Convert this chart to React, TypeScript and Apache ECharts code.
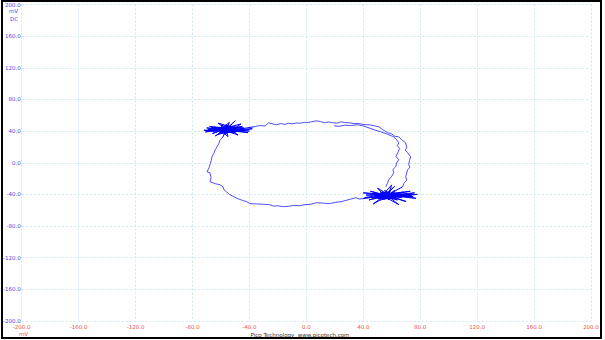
import React, { useEffect, useRef } from "react";
import * as echarts from "echarts";

const xTicks = [-200, -160, -120, -80, -40, 0, 40, 80, 120, 160, 200];
const yTicks = [-200, -160, -120, -80, -40, 0, 40, 80, 120, 160, 200];

const topPath: number[][] = [
  [-37.0, 45.4], [-33.0, 47.0], [-29.0, 46.5], [-26.5, 50.5], [-23.5, 49.0], [-20.9, 48.0], [-18.0, 49.5],
  [-15.0, 48.5], [-12.5, 50.0], [-10.5, 49.2], [-7.0, 50.2], [-4.0, 50.0], [-1.5, 51.2], [0, 50.5],
  [3.0, 51.5], [7.0, 53.0], [10.0, 52.0], [12.6, 50.5], [15.5, 51.5], [18.8, 50.5], [21.5, 50.0],
  [24.4, 51.7], [27.0, 50.8], [30.0, 50.5], [33.5, 49.5], [37.0, 49.5], [40.5, 48.2], [44.0, 48.0],
  [47.5, 46.8], [51.0, 45.4], [53.5, 42.0], [57.2, 37.9], [60.0, 36.5], [62.0, 33.5], [64.9, 32.8],
  [67.0, 29.0], [69.8, 25.2], [70.5, 19.0], [69.5, 16.0], [71.2, 12.6], [73.3, 7.6], [72.5, 3.0],
  [71.9, -2.5], [72.8, -5.5], [71.2, -8.8], [70.5, -13.0], [69.8, -17.7], [70.5, -22.0], [68.5, -26.0],
  [67.7, -30.3],
];

const rightCluster: number[][] = [
  [67.7, -30.3], [58, -40], [40, -38], [56, -42], [75, -43], [55, -41], [62, -30], [54, -43], [44, -47],
  [57, -40], [78, -40], [56, -44], [50, -32], [58, -41], [42, -41], [55, -39], [70, -49], [57, -42],
  [47, -52], [56, -40], [73, -36], [54, -42], [65, -53], [58, -43], [45, -36], [56, -41], [77, -45],
  [55, -38], [60, -28], [57, -43], [41, -44], [56, -40], [68, -37], [53, -46], [74, -41], [58, -39],
  [48, -42], [57, -44], [64, -47], [55, -41], [62, -38], [52, -44], [66, -42], [50, -39], [61, -45],
  [53, -37], [63, -41], [51, -43], [59, -36], [54, -46], [65, -40], [49, -41], [60, -44], [52, -38],
  [67, -44], [53, -40], [58, -47], [55, -35], [63, -43], [50, -45], [71, -41], [56, -38], [46, -40],
  [60, -42], [62, -35], [52, -47], [76, -38], [57, -41], [39.8, -45.4],
];

const bottomPath: number[][] = [
  [39.8, -45.4], [37.0, -45.8], [34.9, -44.2], [31.0, -46.0], [28.0, -47.5], [24.4, -49.2], [20.5, -50.0],
  [16.1, -51.7], [11.5, -51.0], [7.0, -50.5], [3.0, -52.5], [-1.0, -53.0], [-4.9, -54.3], [-9.0, -54.0],
  [-12.5, -55.0], [-16.1, -55.5], [-20.0, -54.5], [-23.0, -54.8], [-25.8, -53.0], [-30.0, -52.5],
  [-35.0, -52.0], [-39.8, -51.7], [-41.9, -49.2], [-45.0, -47.5], [-48.0, -45.5], [-51.0, -42.9],
  [-54.0, -40.0], [-56.0, -37.0], [-57.9, -34.1], [-58.5, -30.5], [-60.7, -27.8], [-64.0, -26.5],
  [-67.7, -24.0], [-67.0, -19.0], [-67.7, -12.6], [-69.8, -11.4], [-69.0, -8.5], [-68.4, -6.3],
  [-67.5, -1.0], [-66.8, 3.0], [-66.3, 7.6], [-65.0, 12.0], [-64.0, 16.5], [-62.8, 20.2], [-61.5, 24.0],
  [-60.8, 28.0], [-59.3, 31.5],
];

const leftCluster: number[][] = [
  [-59, 31.5], [-56, 42], [-70, 44], [-55, 41], [-40, 40], [-57, 43], [-66, 37], [-52, 45], [-62, 50],
  [-54, 40], [-72, 41], [-57, 42], [-45, 46], [-58, 39], [-50, 53], [-56, 43], [-68, 46], [-53, 38],
  [-38, 43], [-57, 41], [-64, 34], [-55, 44], [-48, 35], [-59, 42], [-71, 39], [-54, 43], [-43, 42],
  [-58, 40], [-60, 48], [-52, 41], [-66, 43], [-56, 37], [-46, 49], [-61, 42], [-55, 33], [-57, 45],
  [-69, 42], [-51, 40], [-41, 38], [-58, 44], [-63, 39], [-54, 51], [-57, 41], [-47, 44], [-65, 45],
  [-53, 42], [-61, 38], [-50, 44], [-63, 44], [-52, 39], [-60, 45], [-49, 41], [-62, 41], [-55, 47],
  [-58, 36], [-51, 43], [-64, 41], [-53, 45], [-59, 38], [-48, 40], [-66, 40], [-54, 44], [-60, 43],
  [-50, 38], [-57, 47], [-44, 44], [-62, 36], [-53, 41], [-67, 44], [-56, 40], [-37, 45.4],
];

const innerPath: number[][] = [
  [55.8, -30.3], [57.0, -26.0], [57.9, -21.5], [60.0, -17.0], [61.4, -12.6], [60.8, -8.5], [62.8, -5.0],
  [63.5, 0.0], [64.9, 3.8], [63.0, 8.0], [64.2, 12.6], [65.5, 18.0], [64.0, 21.5], [64.9, 25.2],
  [63.5, 29.0], [61.4, 32.8], [57.0, 36.0], [52.3, 39.1], [48.0, 41.5], [44.0, 44.0], [40.0, 46.5],
  [36.3, 48.0], [31.0, 47.0], [27.0, 47.5], [23.0, 46.0], [19.5, 46.7],
];

export default function App() {
  const ref = useRef<HTMLDivElement>(null);
  useEffect(() => {
    if (!ref.current) return;
    const chart = echarts.init(ref.current, null, { renderer: "svg" });
    const lineStyle = { color: "#3a3aff", width: 0.9 };
    const clusterStyle = { color: "#0000ff", width: 1 };
    const mk = (data: number[][], ls: any) => ({
      type: "line",
      data,
      showSymbol: false,
      symbol: "none",
      lineStyle: ls,
      silent: true,
    });
    const textStyle = (text: string, fill: string, align: string) => ({
      text,
      fill,
      fontSize: 5.5,
      fontFamily: "DejaVu Sans",
      align,
      verticalAlign: "middle",
    });
    chart.setOption({
      animation: false,
      backgroundColor: "#fff",
      grid: { left: 18, right: 14, top: 4.5, bottom: 19, containLabel: false },
      xAxis: {
        type: "value",
        min: xTicks[0],
        max: xTicks[xTicks.length - 1],
        interval: 40,
        axisLine: { show: false },
        axisTick: { show: false },
        axisLabel: {
          color: "#f05050",
          fontSize: 5.5,
          fontFamily: "DejaVu Sans",
          margin: 3,
          formatter: (v: number) => v.toFixed(1),
        },
        splitLine: { show: true, lineStyle: { color: "#cfe8f2", type: [2, 2], width: 1 } },
      },
      yAxis: {
        type: "value",
        min: yTicks[0],
        max: yTicks[yTicks.length - 1],
        interval: 40,
        axisLine: { show: false },
        axisTick: { show: false },
        axisLabel: {
          color: "#4848e0",
          fontSize: 5.5,
          fontFamily: "DejaVu Sans",
          margin: 1,
          formatter: (v: number) => v.toFixed(1),
        },
        splitLine: { show: true, lineStyle: { color: "#cfe8f2", type: [2, 2], width: 1 } },
      },
      series: [
        mk(topPath, lineStyle),
        mk(bottomPath, lineStyle),
        mk(innerPath, lineStyle),
        mk(rightCluster, clusterStyle),
        mk(leftCluster, clusterStyle),
      ],
      graphic: [
        { type: "text", x: 18, y: 11, style: textStyle("mV", "#4848e0", "right") },
        { type: "text", x: 18, y: 18.5, style: textStyle("DC", "#4848e0", "right") },
        { type: "text", x: 19, y: 334, style: textStyle("mV", "#f05050", "left") },
        { type: "text", x: 300, y: 334.5, style: textStyle("Pico Technology  www.picotech.com", "#333", "center") },
        {
          type: "rect",
          shape: { x: 2, y: 1, width: 599, height: 337 },
          style: { fill: "none", stroke: "#000", lineWidth: 2 },
          silent: true,
        },
      ],
    });
    return () => chart.dispose();
  }, []);
  return (
    <div
      ref={ref}
      style={{ position: "absolute", left: 0, top: 0, width: 605, height: 340 }}
    />
  );
}
